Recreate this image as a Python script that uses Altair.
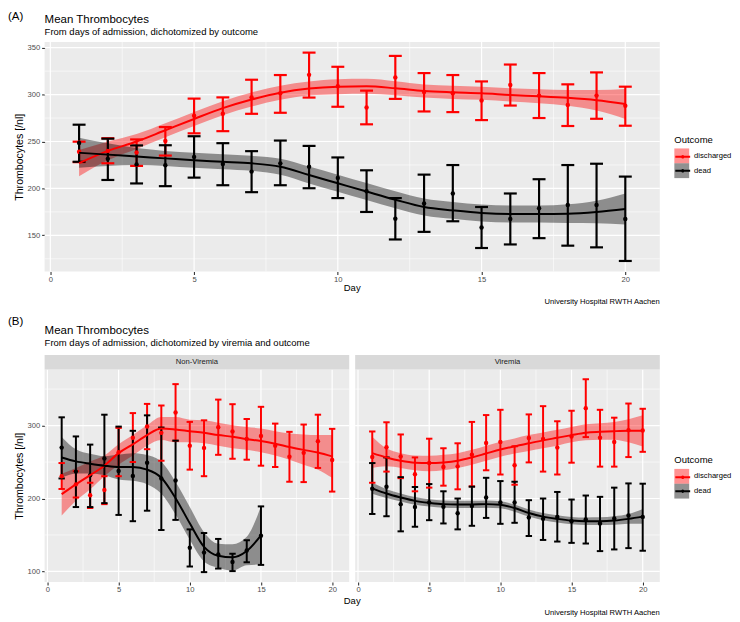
import altair as alt
import pandas as pd

FONT = "Liberation Sans"
OUTCOMES = ["discharged", "dead"]
COLORS = ["#FF0000", "#000000"]

DAYS = list(range(1, 21))
DAYS_15 = list(range(1, 16))

X_MAJOR = [0, 5, 10, 15, 20]
X_MINOR = [2.5, 7.5, 12.5, 17.5]
A_Y_MAJOR = [150, 200, 250, 300, 350]
A_Y_MINOR = [125, 175, 225, 275, 325]
B_Y_MAJOR = [100, 200, 300]
B_Y_MINOR = [150, 250, 350]

# ---------------- Panel A ----------------
A_dis_mean = [239, 240, 238.2, 250.6, 277.4, 279.5, 297, 301.4, 321, 308.8, 286.2, 318.3, 302.8, 301.4, 293.6, 310.2, 298.9, 289, 298.9, 288]
A_dis_lo = [228, 226.8, 224, 235, 258.7, 261, 279.5, 280.6, 296.8, 287, 268.3, 295.4, 282, 281.3, 272.8, 288.3, 275, 266.5, 274.2, 266.8]
A_dis_hi = [249.8, 253.5, 252.2, 265.4, 295.7, 297, 315.8, 320.8, 344.7, 329.6, 304.2, 341.2, 322.9, 320.8, 314, 332, 322.9, 310.9, 323.6, 308.4]
A_dis_fit = [227, 240, 250, 262, 274, 285.5, 294.7, 302, 306.5, 308.4, 308.8, 306.7, 303.8, 302.4, 301.4, 299.6, 298.2, 296.5, 294, 290]
A_dis_flo = [213, 230, 242, 254.5, 266.5, 278, 287.2, 294.5, 299, 300.4, 300.8, 299.2, 296.8, 295.4, 294.4, 292.6, 290.7, 288, 283, 274]
A_dis_fhi = [241, 250, 258, 269.5, 281.5, 293, 302.2, 309.5, 314, 316.4, 316.8, 314.2, 310.8, 309.4, 308.4, 306.6, 305.7, 305, 305, 306]

A_dead_mean = [248.5, 231.5, 225.6, 224.6, 233.6, 226, 217.9, 226.7, 223.1, 211.2, 197, 167.8, 184, 194.6, 158.3, 167.5, 178.8, 182.3, 182.3, 167.5]
A_dead_lo = [228.4, 209, 205.3, 202.4, 211.5, 203.4, 196, 203.4, 200.2, 189.7, 174.9, 145.6, 153.7, 165, 136.5, 140.3, 147, 139, 137.2, 122.7]
A_dead_hi = [267.9, 253, 245.8, 246, 255.6, 248.2, 239.7, 251, 245.3, 233, 219.3, 189.7, 214.7, 224.9, 180.2, 194.6, 209.8, 224.9, 226.3, 212.6]
A_dead_fit = [238, 236, 234, 232, 230, 228.4, 226.7, 223, 214.3, 205.5, 196.7, 188, 180.2, 176.6, 173.8, 172.8, 172.8, 173.1, 174.9, 178]
A_dead_flo = [222, 224, 225, 224, 222, 220.4, 218.7, 214.5, 205.3, 196.5, 187.7, 179, 171.2, 167.6, 164.8, 163.8, 163.8, 163.1, 162.9, 161.5]
A_dead_fhi = [254, 248, 243, 240, 238, 236.4, 234.7, 231.5, 223.3, 214.5, 205.7, 197, 189.2, 185.6, 182.8, 181.8, 181.8, 183.1, 186.9, 194.5]

# ---------------- Panel B: Non-Viremia ----------------
NV_dis_mean = [230.6, 219.4, 204.5, 211.7, 263.5, 283.3, 298.6, 290, 318, 272.5, 269.4, 297.7, 291.9, 281.5, 285.6, 272.5, 257.2, 262.6, 278.4, 252.7]
NV_dis_lo = [213.1, 201.4, 187, 192.3, 230.6, 250, 267.6, 251.8, 279.3, 239.6, 230.6, 259.9, 254.5, 253.2, 245, 243.2, 223, 222.5, 241.9, 209.5]
NV_dis_hi = [248.6, 237.4, 221.6, 230.6, 296.8, 317.1, 329.7, 327.5, 356.8, 305, 307.2, 335.6, 329.3, 309, 325.7, 302.7, 291.4, 301.4, 314.9, 295.5]
NV_dis_fit = [205.9, 219.4, 232, 245, 262.2, 274.3, 287, 296, 294.6, 292.3, 290.1, 287, 284.7, 281.5, 278.8, 275.2, 270.7, 266.7, 263.1, 257.7]
NV_dis_flo = [176.6, 196.8, 212.6, 230.6, 246.4, 259, 272.5, 280.2, 277, 277, 275.7, 272.5, 269, 266.7, 263.5, 259, 253.2, 246.4, 239.6, 228.4]
NV_dis_fhi = [233.8, 241.9, 250.9, 259, 274.3, 287, 300.5, 311.7, 311.7, 308.1, 307.2, 304, 300.5, 298.2, 296, 292.3, 289.2, 287.8, 286.9, 286.9]

NV_dead_mean = [269.8, 236.9, 232, 255, 237.8, 231, 249.1, 227.5, 224.8, 132.4, 126.1, 123.4, 113, 128.8, 149.1]
NV_dead_lo = [227.5, 188.3, 188.3, 193.7, 177.5, 168.9, 183.3, 156.8, 170.7, 106.8, 99.1, 104, 100.5, 112.6, 109]
NV_dead_hi = [311.3, 285.1, 273.9, 314.9, 298.6, 292.8, 314, 297.3, 279.3, 157.7, 152.7, 144.6, 124.3, 142.8, 189.2]
NV_dead_fit = [256.3, 250.9, 247.7, 245, 243.2, 243.2, 239.6, 228.4, 200.5, 166, 133.8, 121.6, 119.4, 128, 149.5]
NV_dead_flo = [228.3, 234.4, 234.2, 232, 226.2, 224.2, 219.6, 206.4, 178, 143.5, 113.8, 105.1, 101.4, 108.5, 109.5]
NV_dead_fhi = [284.3, 267.4, 261.2, 258, 260.2, 262.2, 259.6, 250.4, 223, 188.5, 153.8, 138.1, 137.4, 147.5, 189.5]

# ---------------- Panel B: Viremia ----------------
V_dis_mean = [256.8, 270.3, 257.7, 233.3, 248.6, 243.2, 244.1, 259.9, 276.1, 277.5, 245.5, 282.9, 281.5, 269.8, 285.1, 323.9, 283.3, 277.5, 293.7, 293.2]
V_dis_lo = [221.6, 236.9, 227.9, 209.9, 214.9, 217.6, 212.6, 216.7, 238.7, 232.9, 218.9, 249.5, 236.9, 232.9, 249.1, 284.2, 243.7, 243.7, 256.8, 264]
V_dis_hi = [291.9, 304.5, 287.8, 256.3, 282, 268.9, 275.7, 305, 314.4, 321.6, 271.6, 315.3, 326.6, 305.9, 320.3, 363.5, 321.6, 310.8, 330.2, 323]
V_dis_fit = [262.2, 256.3, 251.8, 249.1, 248.6, 249.5, 251.8, 256.3, 261.7, 267.1, 271.6, 275.7, 279.7, 283.3, 286.9, 290.1, 291.4, 292.3, 292.8, 292.8]
V_dis_flo = [241.9, 244.1, 241.9, 238.7, 237.4, 238.7, 241.9, 246.4, 251.8, 257.2, 261.7, 265.3, 268.9, 272.5, 277, 279.7, 280.6, 280.6, 277, 271.2]
V_dis_fhi = [284.7, 268.9, 262.2, 259, 258.6, 259.9, 262.2, 266.7, 272.5, 277.9, 282.4, 286.9, 290.5, 294.1, 298.2, 301.8, 303.2, 305, 308.6, 314]

V_dead_mean = [213.5, 216.2, 192.3, 188.3, 194.6, 188.7, 179.7, 189.6, 201.4, 194.6, 194.6, 173.9, 172.1, 174.8, 168.9, 171.2, 165.8, 172.5, 176.6, 174.8]
V_dead_lo = [178.8, 175.7, 155, 161.3, 170.3, 165.8, 157.7, 162.6, 173.4, 165.3, 166.7, 148.6, 143.2, 141, 139.2, 138.3, 127.9, 130.2, 132, 128.4]
V_dead_hi = [248.6, 256.3, 229.3, 215.8, 219.8, 209.9, 200, 216.2, 228.4, 223.9, 223, 197.7, 200, 209, 198.6, 204.1, 202.3, 214.9, 220.7, 220.3]
V_dead_fit = [214, 206.8, 201.4, 196.8, 194.1, 192.3, 191.9, 191.9, 192.3, 191.4, 186.9, 180.2, 175.2, 172.1, 169.8, 168.9, 168.9, 169.8, 172.1, 175.2]
V_dead_flo = [206.5, 200.8, 195.9, 191.6, 189.1, 187.4, 187, 187, 187.4, 186.5, 182, 175.3, 170.3, 167.2, 164.8, 163.8, 163.6, 164, 165.5, 165.3]
V_dead_fhi = [221.5, 212.8, 206.9, 202, 199.1, 197.2, 196.8, 196.8, 197.2, 196.3, 191.8, 185.1, 180.1, 177, 174.8, 174, 174.2, 175.6, 178.7, 185.5]

TITLE = "Mean Thrombocytes"
SUB_A = "From days of admission, dichotomized by outcome"
SUB_B = "From days of admission, dichotomized by viremia and outcome"
CAPTION = "University Hospital RWTH Aachen"
Y_TITLE = "Thrombocytes [/nl]"
X_TITLE = "Day"
STRIPS = ["Non-Viremia", "Viremia"]

KEY_PATH = "M-1,0H1M-0.1,0A0.1,0.1,0,1,0,0.1,0A0.1,0.1,0,1,0,-0.1,0"
LEG_TITLE_SIZE = 9.6
LEG_TITLE_PAD = 4


def pts_df(outcome, days, mean, lo, hi):
    return pd.DataFrame({"Day": days, "Outcome": outcome, "mean": mean, "lo": lo, "hi": hi})


def fit_df(outcome, days, fit, lo, hi):
    return pd.DataFrame({"Day": days, "Outcome": outcome, "fit": fit, "slo": lo, "shi": hi})


def txt(s, x, y, size, color="black", align="left"):
    return alt.Chart(pd.DataFrame({"t": [s]})).mark_text(
        align=align, baseline="alphabetic", fontSize=size, color=color, font=FONT
    ).encode(x=alt.value(x), y=alt.value(y), text="t:N")


def strip(label, width):
    rect = alt.Chart(pd.DataFrame({"t": [label]})).mark_rect(color="#D9D9D9").encode(
        x=alt.value(0), x2=alt.value(width), y=alt.value(-14.5), y2=alt.value(0)
    )
    return [rect, txt(label, width / 2, -5, 7.7, color="#1A1A1A", align="center")]


def panel(points, fits, width, height, ydom, ymaj, ymin, show_y, legend_xy, texts, sw):
    xs = alt.Scale(domain=[-0.2, 21.2], nice=False, zero=False)
    ys = alt.Scale(domain=ydom, nice=False, zero=False)
    xaxis = alt.Axis(values=X_MAJOR, grid=False, domain=False, ticks=True, tickSize=3,
                     tickColor="#333333", tickWidth=1.1, labelFontSize=7.7, labelColor="#4D4D4D",
                     labelPadding=1, title=None, format="d", labelFont=FONT)
    if show_y:
        yaxis = alt.Axis(values=ymaj, grid=False, domain=False, ticks=True, tickSize=3,
                         tickColor="#333333", tickWidth=1.1, labelFontSize=7.7, labelColor="#4D4D4D",
                         labelPadding=2, title=Y_TITLE, titleFontSize=10.7, titleFontWeight="normal",
                         titleColor="black", titlePadding=3, format="d", labelFont=FONT, titleFont=FONT)
    else:
        yaxis = None

    if legend_xy is None:
        leg_fill = None
        leg_stroke = None
    else:
        lx, ly = legend_xy
        leg_fill = alt.Legend(orient="none", legendX=lx, legendY=ly, title="Outcome",
                              titleFontSize=LEG_TITLE_SIZE, titleFontWeight="normal", titleFont=FONT,
                              titlePadding=LEG_TITLE_PAD, titleColor="black",
                              symbolType="square", symbolSize=225, symbolOpacity=0.43,
                              symbolStrokeWidth=0, labelFontSize=7.7, labelFont=FONT,
                              labelColor="black", labelOffset=5, rowPadding=0, padding=0)
        leg_stroke = alt.Legend(orient="none", legendX=lx,
                                legendY=ly + LEG_TITLE_SIZE + LEG_TITLE_PAD, title=None,
                                symbolType=KEY_PATH, symbolSize=225, symbolStrokeWidth=2,
                                labelExpr="''", labelFontSize=7.7, labelOffset=5,
                                rowPadding=0, padding=0)

    cscale = alt.Scale(domain=OUTCOMES, range=COLORS)
    X = alt.X("Day:Q", scale=xs, axis=xaxis)

    gx_min = alt.Chart(pd.DataFrame({"v": X_MINOR})).mark_rule(color="white", strokeWidth=0.6).encode(
        x=alt.X("v:Q", scale=xs, axis=xaxis))
    gy_min = alt.Chart(pd.DataFrame({"v": ymin})).mark_rule(color="white", strokeWidth=0.6).encode(
        y=alt.Y("v:Q", scale=ys, axis=yaxis))
    gx_maj = alt.Chart(pd.DataFrame({"v": X_MAJOR})).mark_rule(color="white", strokeWidth=1.2).encode(
        x=alt.X("v:Q", scale=xs, axis=xaxis))
    gy_maj = alt.Chart(pd.DataFrame({"v": ymaj})).mark_rule(color="white", strokeWidth=1.2).encode(
        y=alt.Y("v:Q", scale=ys, axis=yaxis))

    rib = alt.Chart(fits).mark_area(opacity=0.4, interpolate="monotone").encode(
        x=X, y=alt.Y("slo:Q", scale=ys, axis=yaxis), y2="shi:Q",
        fill=alt.Fill("Outcome:N", scale=alt.Scale(domain=OUTCOMES, range=COLORS), legend=leg_fill))

    eb = alt.Chart(points).mark_rule(strokeWidth=sw).encode(
        x=X, y=alt.Y("lo:Q", scale=ys, axis=yaxis), y2="hi:Q",
        color=alt.Color("Outcome:N", scale=cscale, legend=None))

    caps = alt.Chart(points).transform_fold(["lo", "hi"], as_=["end", "val"]).transform_calculate(
        xa="datum.Day - 0.225", xb="datum.Day + 0.225").mark_rule(strokeWidth=sw).encode(
        x=alt.X("xa:Q", scale=xs, axis=xaxis), x2="xb:Q",
        y=alt.Y("val:Q", scale=ys, axis=yaxis),
        color=alt.Color("Outcome:N", scale=cscale, legend=None))

    dots = alt.Chart(points).mark_circle(size=20, opacity=1).encode(
        x=X, y=alt.Y("mean:Q", scale=ys, axis=yaxis),
        color=alt.Color("Outcome:N", scale=cscale, legend=None))

    line = alt.Chart(fits).transform_calculate(Outcome2="datum.Outcome").mark_line(
        strokeWidth=2, interpolate="monotone").encode(
        x=X, y=alt.Y("fit:Q", scale=ys, axis=yaxis),
        stroke=alt.Stroke("Outcome2:N", sort=OUTCOMES, scale=alt.Scale(range=COLORS), legend=leg_stroke))

    return alt.layer(gx_min, gy_min, gx_maj, gy_maj, rib, eb, caps, dots, line, *texts).properties(
        width=width, height=height)


ptsA = pd.concat([pts_df("discharged", DAYS, A_dis_mean, A_dis_lo, A_dis_hi),
                  pts_df("dead", DAYS, A_dead_mean, A_dead_lo, A_dead_hi)], ignore_index=True)
fitA = pd.concat([fit_df("discharged", DAYS, A_dis_fit, A_dis_flo, A_dis_fhi),
                  fit_df("dead", DAYS, A_dead_fit, A_dead_flo, A_dead_fhi)], ignore_index=True)
ptsNV = pd.concat([pts_df("discharged", DAYS, NV_dis_mean, NV_dis_lo, NV_dis_hi),
                   pts_df("dead", DAYS_15, NV_dead_mean, NV_dead_lo, NV_dead_hi)], ignore_index=True)
fitNV = pd.concat([fit_df("discharged", DAYS, NV_dis_fit, NV_dis_flo, NV_dis_fhi),
                   fit_df("dead", DAYS_15, NV_dead_fit, NV_dead_flo, NV_dead_fhi)], ignore_index=True)
ptsV = pd.concat([pts_df("discharged", DAYS, V_dis_mean, V_dis_lo, V_dis_hi),
                  pts_df("dead", DAYS, V_dead_mean, V_dead_lo, V_dead_hi)], ignore_index=True)
fitV = pd.concat([fit_df("discharged", DAYS, V_dis_fit, V_dis_flo, V_dis_fhi),
                  fit_df("dead", DAYS, V_dead_fit, V_dead_flo, V_dead_fhi)], ignore_index=True)

WA, HA = 622, 232
WB, HB = 308, 215

textsA = [
    txt("(A)", -37, -21.8, 11.6),
    txt(TITLE, 0, -19.5, 11.6),
    txt(SUB_A, 0, -6.7, 9.6),
    txt(X_TITLE, WA / 2, 252, 9.6, align="center"),
    txt(CAPTION, WA, 265, 7.7, align="right"),
]
chartA = panel(ptsA, fitA, WA, HA, [111.5, 356], A_Y_MAJOR, A_Y_MINOR, True, (636.7, 94), textsA, 2.2)

textsNV = [
    txt("(B)", -37, -45, 11.6),
    txt(TITLE, 0, -35.7, 11.6),
    txt(SUB_B, 0, -24, 9.6),
] + strip(STRIPS[0], WB)
chartNV = panel(ptsNV, fitNV, WB, HB, [85.5, 377], B_Y_MAJOR, B_Y_MINOR, True, None, textsNV, 2.0)

textsV = strip(STRIPS[1], WB) + [
    txt(X_TITLE, -3, 237, 9.6, align="center"),
    txt(CAPTION, WB, 248.7, 7.7, align="right"),
]
chartV = panel(ptsV, fitV, WB, HB, [85.5, 377], B_Y_MAJOR, B_Y_MINOR, False, (322.7, 87), textsV, 2.0)

RES = dict(x="independent", y="independent", fill="independent", stroke="independent", color="independent")
LRES = dict(fill="independent", stroke="independent", color="independent")

chartB = alt.hconcat(chartNV, chartV, spacing=6, bounds="flush").resolve_scale(**RES).resolve_legend(**LRES)

chart = alt.vconcat(chartA, chartB, spacing=99, bounds="flush").resolve_scale(**RES).resolve_legend(**LRES).properties(
    padding=0).configure(font=FONT).configure_view(fill="#EBEBEB", stroke=None)

chart.save("out.html", embed_options={"renderer": "svg", "actions": False})
